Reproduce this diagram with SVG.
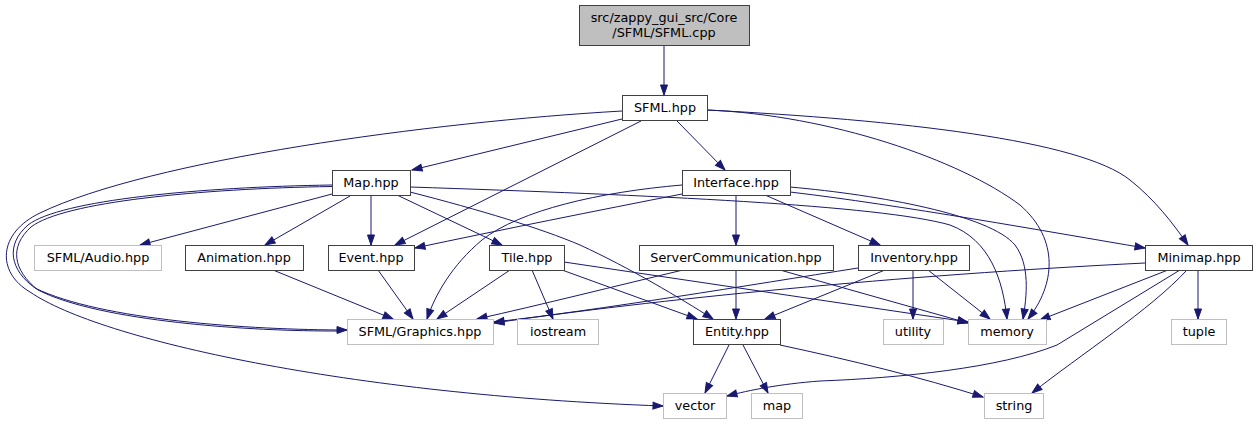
<svg xmlns="http://www.w3.org/2000/svg" width="1258" height="425" viewBox="0 0 1258 425">
<style>
.n rect{fill:#ffffff;stroke:#404040;stroke-width:1}
.x rect{fill:#ffffff;stroke:#bfbfbf;stroke-width:1}
.c rect{fill:#bfbfbf;stroke:#404040;stroke-width:1}
text{font-family:"DejaVu Sans","Liberation Sans",sans-serif;font-size:12.8px;fill:#000;text-anchor:middle}
#edges path{fill:none;stroke:#191970;stroke-width:1;marker-end:url(#a)}
#edges path.nm{marker-end:none}
</style>
<defs>
<marker id="a" markerWidth="12" markerHeight="9" refX="10" refY="4" orient="auto" markerUnits="userSpaceOnUse" overflow="visible">
<path d="M0,0.5 L10,4 L0,7.5 z" fill="#191970" stroke="#191970" stroke-width="1"/>
</marker>
</defs>
<rect width="1258" height="425" fill="#ffffff"/>
<g id="edges">
<path d="M664,45 L664,95"/>
<path d="M622,119 L412,170"/>
<path d="M641,121 L395,245"/>
<path d="M677,121 L725,170"/>
<path d="M707,110 C 900,120 1080,140 1130,180 C 1155,200 1172,222 1188,245"/>
<path d="M707,110 C 830,115 960,160 1020,205 C 1060,240 1055,285 1028,319"/>
<path d="M622,111 C 430,122 150,160 40,213 C -2,233 -4,272 30,292 C 100,340 350,395 663,406"/>
<path d="M332,185 C 200,187 60,200 28,225 C 5,245 10,270 35,288 C 100,320 250,330 347,330"/>
<path class="nm" d="M332,186.5 C 200,188.5 63,202 31,227 C 9,247 13,270 38,290 C 100,321.5 250,331.5 340,331"/>
<path d="M332,194 L140,245"/>
<path d="M350,196 L265,245"/>
<path d="M371,196 L371,245"/>
<path d="M397,195 L502,245"/>
<path d="M410,192 C 480,210 540,228 580,245 C 630,268 680,298 713,319"/>
<path d="M410,187 C 650,195 880,205 950,225 C 990,240 1003,280 1007,319"/>
<path d="M682,194 C 600,210 500,230 415,248"/>
<path d="M682,185 C 600,192 520,210 482,240 C 452,265 435,295 427,319"/>
<path d="M736,196 L736,245"/>
<path d="M765,195 L880,245"/>
<path d="M790,192 C 900,205 1050,232 1145,248"/>
<path d="M790,187 C 880,195 990,215 1015,245 C 1030,265 1027,295 1023,319"/>
<path d="M273,270 L393,319"/>
<path d="M378,270 L413,319"/>
<path d="M510,270 L437,319"/>
<path d="M532,270 L553,319"/>
<path d="M562,270 L697,319"/>
<path d="M564,262 L968,322"/>
<path d="M683,270 C 620,285 540,305 477,319"/>
<path d="M736,270 L736,319"/>
<path d="M780,270 L968,323"/>
<path d="M858,268 C 750,285 600,310 494,322"/>
<path d="M1145,263 C 900,275 650,300 494,323"/>
<path d="M885,270 L765,319"/>
<path d="M913,270 L913,319"/>
<path d="M928,270 L990,319"/>
<path d="M1168,270 L1040,320"/>
<path d="M1198,270 L1198,319"/>
<path class="nm" d="M1180,270 L1057,345"/>
<path d="M1057,345 C 1000,368 900,378 820,381 C 780,384 750,390 727,396"/>
<path d="M1187,270 C 1150,310 1080,355 1032,393"/>
<path d="M729,345 L705,393"/>
<path d="M743,345 L768,393"/>
<path d="M780,345 C 850,360 920,377 983,397"/>
</g>
<g id="node-sfml-cpp" class="c"><rect x="579.5" y="5.5" width="170" height="40"/><text x="664" y="22">src/zappy_gui_src/Core</text><text x="664" y="37">/SFML/SFML.cpp</text></g>
<g id="node-sfml-hpp" class="n"><rect x="622.5" y="95.5" width="85" height="25"/><text x="665" y="112">SFML.hpp</text></g>
<g id="node-map" class="n"><rect x="332.5" y="170.5" width="78" height="25"/><text x="371" y="187">Map.hpp</text></g>
<g id="node-interface" class="n"><rect x="682.5" y="170.5" width="108" height="25"/><text x="736" y="187">Interface.hpp</text></g>
<g id="node-audio" class="x"><rect x="34.5" y="245.5" width="127" height="25"/><text x="98" y="262">SFML/Audio.hpp</text></g>
<g id="node-animation" class="n"><rect x="185.5" y="245.5" width="118" height="25"/><text x="244" y="262">Animation.hpp</text></g>
<g id="node-event" class="n"><rect x="328.5" y="245.5" width="86" height="25"/><text x="371" y="262">Event.hpp</text></g>
<g id="node-tile" class="n"><rect x="489.5" y="245.5" width="75" height="25"/><text x="527" y="262">Tile.hpp</text></g>
<g id="node-servercomm" class="n"><rect x="639.5" y="245.5" width="194" height="25"/><text x="736" y="262">ServerCommunication.hpp</text></g>
<g id="node-inventory" class="n"><rect x="858.5" y="245.5" width="111" height="25"/><text x="914" y="262">Inventory.hpp</text></g>
<g id="node-minimap" class="n"><rect x="1145.5" y="245.5" width="107" height="25"/><text x="1199" y="262">Minimap.hpp</text></g>
<g id="node-graphics" class="x"><rect x="347.5" y="319.5" width="146" height="25"/><text x="420" y="336">SFML/Graphics.hpp</text></g>
<g id="node-iostream" class="x"><rect x="517.5" y="319.5" width="81" height="25"/><text x="558" y="336">iostream</text></g>
<g id="node-entity" class="n"><rect x="693.5" y="319.5" width="87" height="25"/><text x="737" y="336">Entity.hpp</text></g>
<g id="node-utility" class="x"><rect x="883.5" y="319.5" width="60" height="25"/><text x="913" y="336">utility</text></g>
<g id="node-memory" class="x"><rect x="968.5" y="319.5" width="78" height="25"/><text x="1007" y="336">memory</text></g>
<g id="node-tuple" class="x"><rect x="1171.5" y="319.5" width="55" height="25"/><text x="1199" y="336">tuple</text></g>
<g id="node-vector" class="x"><rect x="663.5" y="393.5" width="63" height="25"/><text x="695" y="410">vector</text></g>
<g id="node-mapstd" class="x"><rect x="751.5" y="393.5" width="51" height="25"/><text x="777" y="410">map</text></g>
<g id="node-string" class="x"><rect x="984.5" y="393.5" width="59" height="25"/><text x="1014" y="410">string</text></g>
</svg>
